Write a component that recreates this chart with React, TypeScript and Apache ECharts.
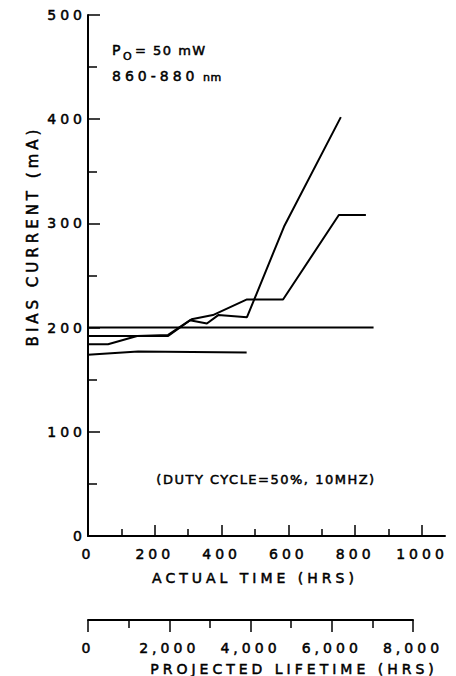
import React, { useEffect, useRef } from "react";
import * as echarts from "echarts";

// Tick values for the axes
const yTicks = [0, 100, 200, 300, 400, 500];
const actualTicks = [0, 200, 400, 600, 800, 1000];
const projectedTicks = [0, 2000, 4000, 6000, 8000];

// Series: [actual time (hrs), bias current (mA)]
const laserFlat200: number[][] = [[0, 200], [855, 200]];
const laserLow: number[][] = [[0, 174], [150, 177], [475, 176]];
const laserSteep: number[][] = [
  [0, 184], [60, 184], [147, 192], [240, 193], [305, 207], [356, 204],
  [390, 212], [476, 210], [587, 297], [757, 402],
];
const laserStep: number[][] = [
  [0, 192], [240, 192], [310, 208], [374, 212], [476, 227], [584, 227],
  [751, 308], [832, 308],
];

const FONT = "DejaVu Sans";
const INK = "#000";
const BORDER = 0.5;
const labelStyle = {
  color: INK,
  fontFamily: FONT,
  fontSize: 14,
  textBorderColor: INK,
  textBorderWidth: BORDER,
};

export default function App() {
  const ref = useRef<HTMLDivElement>(null);
  useEffect(() => {
    if (!ref.current) return;
    const chart = echarts.init(ref.current, null, { renderer: "svg" });
    const lineSeries = (data: number[][]) => ({
      type: "line",
      xAxisIndex: 0,
      yAxisIndex: 0,
      data,
      symbol: "none",
      lineStyle: { color: INK, width: 2 },
      clip: false,
    });
    const txt = (
      text: string,
      x: number,
      y: number,
      size: number,
      extra: Record<string, unknown> = {},
      rotation = 0
    ) => ({
      type: "text",
      x,
      y,
      rotation,
      style: {
        text,
        fill: INK,
        stroke: INK,
        lineWidth: BORDER,
        fontFamily: FONT,
        fontSize: size,
        verticalAlign: "middle",
        ...extra,
      },
    });
    chart.setOption({
      animation: false,
      backgroundColor: "#fff",
      grid: [
        { left: 88, top: 15, width: 334, height: 521 },
        { left: 88, top: 15, right: 11, height: 521 },
        { left: 88, top: 619, right: 43, height: 1 },
      ],
      xAxis: [
        {
          type: "value",
          gridIndex: 0,
          min: actualTicks[0],
          max: actualTicks[actualTicks.length - 1],
          interval: 200,
          axisLine: { show: false },
          axisTick: { show: true, inside: true, length: 11, lineStyle: { color: INK, width: 1.5 } },
          minorTick: { show: true, splitNumber: 2, length: 7, lineStyle: { color: INK, width: 1.5 } },
          splitLine: { show: false },
          axisLabel: { ...labelStyle, margin: 11, formatter: (v: number) => String(v) },
          name: "ACTUAL TIME (HRS)",
          nameLocation: "middle",
          nameGap: 35,
          nameTextStyle: { ...labelStyle },
        },
        {
          type: "value",
          gridIndex: 1,
          min: 0,
          max: 1,
          axisLine: { show: true, lineStyle: { color: INK, width: 2 } },
          axisTick: { show: false },
          axisLabel: { show: false },
          splitLine: { show: false },
        },
        {
          type: "value",
          gridIndex: 2,
          position: "bottom",
          min: projectedTicks[0],
          max: projectedTicks[projectedTicks.length - 1],
          interval: 2000,
          axisLine: { show: true, lineStyle: { color: INK, width: 2 } },
          axisTick: { show: true, inside: false, length: 12, lineStyle: { color: INK, width: 1.5 } },
          minorTick: { show: true, splitNumber: 2, length: 8, lineStyle: { color: INK, width: 1.5 } },
          splitLine: { show: false },
          axisLabel: {
            ...labelStyle,
            margin: 21,
            formatter: (v: number) => v.toLocaleString("en-US"),
          },
        },
      ],
      yAxis: [
        {
          type: "value",
          gridIndex: 0,
          min: yTicks[0],
          max: yTicks[yTicks.length - 1],
          interval: 100,
          axisLine: { show: true, lineStyle: { color: INK, width: 2 } },
          axisTick: { show: true, inside: true, length: 12, lineStyle: { color: INK, width: 1.5 } },
          minorTick: { show: true, splitNumber: 2, length: 9, lineStyle: { color: INK, width: 1.5 } },
          splitLine: { show: false },
          axisLabel: { ...labelStyle, margin: 2 },
        },
        { type: "value", gridIndex: 1, show: false, min: 0, max: 1 },
        { type: "value", gridIndex: 2, show: false, min: 0, max: 1 },
      ],
      graphic: [
        txt("BIAS CURRENT (mA)", 33, 236, 15, { align: "center" }, Math.PI / 2),
        txt("P", 112, 50, 14),
        txt("O", 123, 56, 11),
        txt("= 50 mW", 135, 50, 13),
        txt("860-880", 112, 76, 14),
        txt("nm", 203, 77, 11),
        txt("(DUTY CYCLE=50%, 10MHZ)", 266, 479, 13, { align: "center" }),
        txt("PROJECTED LIFETIME (HRS)", 294, 669, 14, { align: "center" }),
      ],
      series: [
        lineSeries(laserFlat200),
        lineSeries(laserLow),
        lineSeries(laserSteep),
        lineSeries(laserStep),
      ],
    });
    return () => chart.dispose();
  }, []);
  return (
    <>
      <style>{`body{margin:0;}
svg text{letter-spacing:4px;}
svg text[style*="13px"]{letter-spacing:1.5px;}
svg text[style*="11px"]{letter-spacing:0.5px;}
svg text[style*="15px"]{letter-spacing:4px;}`}</style>
      <div ref={ref} style={{ width: 456, height: 676 }} />
    </>
  );
}
